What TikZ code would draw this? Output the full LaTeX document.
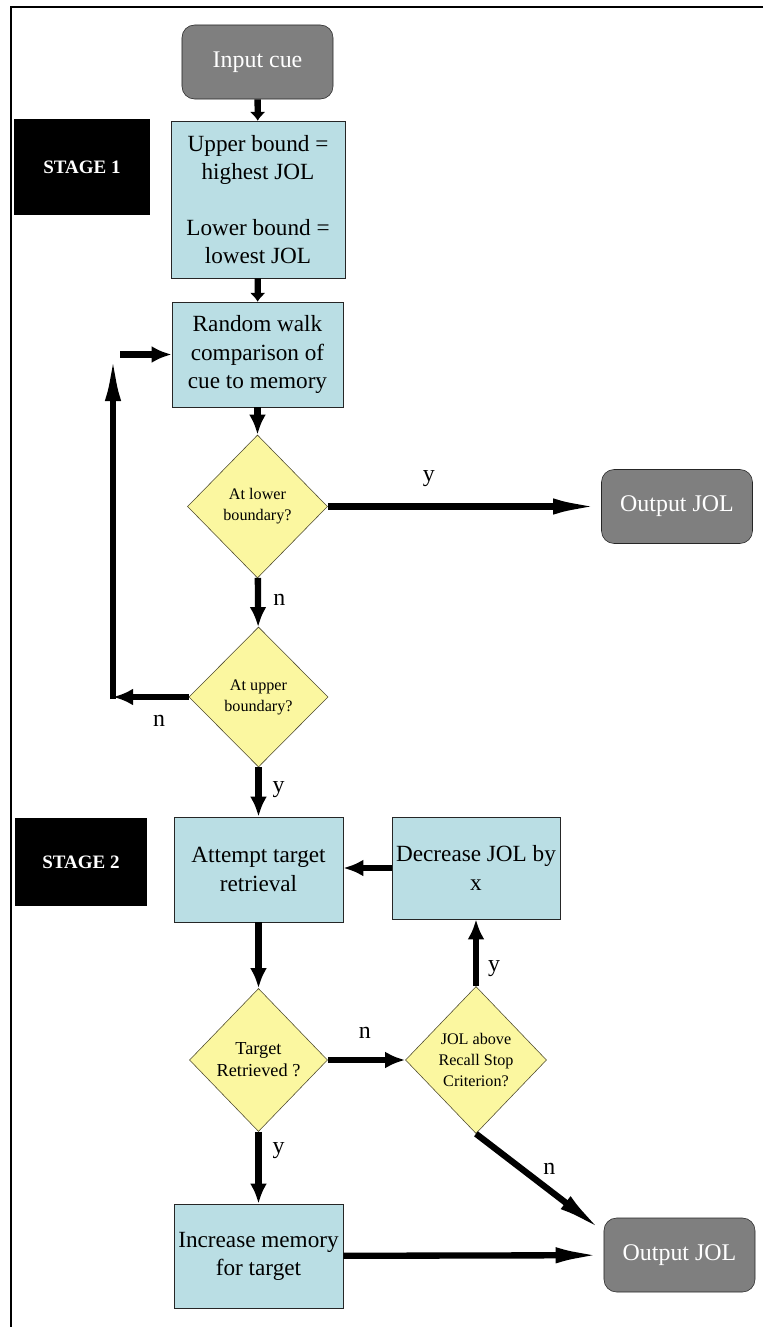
\documentclass[tikz,border=0pt]{standalone}
\usepackage{fontspec}
\setmainfont{Liberation Serif}
\usepackage{tikz}
\usetikzlibrary{arrows,arrows.meta,calc,positioning,shapes}
\usetikzlibrary{shapes.geometric}
\definecolor{boxblue}{RGB}{186,222,228}
\definecolor{boxgray}{RGB}{127,127,127}
\definecolor{decyellow}{RGB}{251,247,160}
\tikzset{%
	startstop/.style = {draw=black!85, fill=boxgray, text=white, rectangle, rounded corners=9pt, minimum width=3.775cm, minimum height=1.85cm, text centered, font=\fontsize{17}{20}\selectfont},
	process/.style   = {draw=black!85, fill=boxblue, rectangle, align=center, inner sep=1pt, font=\fontsize{16.5}{20}\selectfont},
	decision/.style  = {draw=black!60!olive, fill=decyellow, diamond, aspect=1, inner sep=0pt, align=center, font=\fontsize{11.5}{15}\selectfont},
	stage/.style     = {fill=black, text=white, rectangle, font=\bfseries\fontsize{13.5}{16}\selectfont},
	yn/.style        = {inner sep=1pt, font=\fontsize{17}{20}\selectfont},
	arrow/.style     = {line width=4.5pt, -{Latex[length=0.5cm,width=0.42cm]}},
	longarrow/.style = {line width=4.5pt, -{Latex[length=1.2cm,width=0.4cm]}},
	stub/.style      = {line width=4.5pt, -{Latex[length=0.22cm,width=0.4cm]}},
}
\begin{document}
\begin{tikzpicture}[x=0.025cm,y=-0.025cm]
		\useasboundingbox (0,0) rectangle (763,1327);
		\draw[line width=2pt] (763,7) -- (11,7) -- (11,1327);
		
		% stage 1
		\node[startstop] (cue) at (257.5,62) {Input cue};
		\node[process, minimum width=4.35cm, minimum height=3.925cm] (bounds) at (258,199.5) {Upper bound =\\ highest JOL\\[20pt] Lower bound =\\ lowest JOL};
		\node[stage, minimum width=3.4cm, minimum height=2.4cm] (stageA) at (82,167) {STAGE 1};
		\node[process, minimum width=4.275cm, minimum height=2.625cm] (walk) at (257.5,354.5) {Random walk\\ comparison of\\ cue to memory};
		\node[decision, minimum width=3.5cm, minimum height=3.575cm] (lower) at (257.5,506.5) {At lower\\ boundary?};
		\node[startstop] (outA) at (677,506.5) {Output JOL};
		\node[decision, minimum width=3.475cm, minimum height=3.5cm] (upper) at (258.5,697) {At upper\\ boundary?};
		
		% stage 2
		\node[process, minimum width=4.225cm, minimum height=2.625cm] (attempt) at (258.5,869.5) {Attempt target\\ retrieval};
		\node[stage, minimum width=3.3cm, minimum height=2.2cm] (stageB) at (81,862) {STAGE 2};
		\node[process, minimum width=4.2cm, minimum height=2.55cm] (decrease) at (476,868) {Decrease JOL by\\ x};
		\node[decision, minimum width=3.45cm, minimum height=3.575cm, font=\fontsize{13}{15.5}\selectfont] (retrieved) at (258.5,1060) {Target\\ Retrieved ?};
		\node[decision, minimum width=3.525cm, minimum height=3.675cm] (criterion) at (476,1060) {JOL above\\ Recall Stop\\ Criterion?};
		\node[process, minimum width=4.225cm, minimum height=2.6cm] (increase) at (258.5,1256) {Increase memory\\ for target};
		\node[startstop] (outB) at (679.5,1255) {Output JOL};
		
		\coordinate (loopcorner) at (113,697);
		\coordinate (looptop) at (113,353);
		\coordinate (loopmouth) at (120,354.5);
		
		\draw[stub] (cue) -- (bounds);
		\draw[stub] (bounds) -- (walk);
		\draw[arrow] (walk) -- (lower);
		\draw[longarrow] (lower) -- node[yn, pos=0.37, above=0.37cm] {y} (outA);
		\draw[arrow] (lower) -- node[yn, pos=0.45, right=0.27cm] {n} (upper);
		\draw[arrow] (upper.west) -- node[yn, pos=0.39, below=0.33cm] {n} (loopcorner);
		\draw[longarrow] ([yshift=-0.05cm]loopcorner) -- (looptop);
		\draw[arrow] (loopmouth) -- (walk.west);
		\draw[arrow] (upper) -- node[yn, pos=0.46, right=0.24cm] {y} (attempt);
		
		\draw[arrow] (decrease.west) -- (attempt.east |- decrease.west);
		\draw[arrow] (attempt) -- (retrieved);
		\draw[arrow] (retrieved) -- node[yn, pos=0.48, above=0.43cm] {n} (criterion);
		\draw[arrow] (criterion) -- node[yn, pos=0.26, right=0.19cm] {y} (decrease);
		\draw[arrow] (retrieved) -- node[yn, pos=0.26, right=0.24cm] {y} (increase);
		\draw[longarrow] (criterion.south) -- node[yn, pos=0.36, right=0.42cm] {n} (outB.163);
		\draw[longarrow] (increase) -- (outB);
		
		\end{tikzpicture}
\end{document}
